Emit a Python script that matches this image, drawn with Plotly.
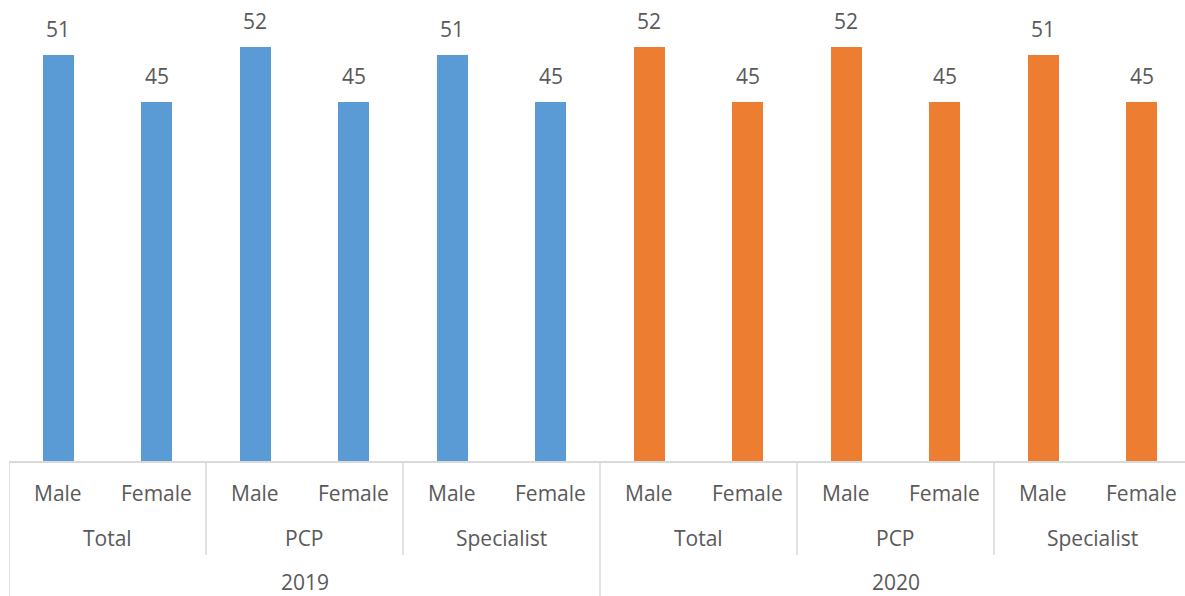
import plotly.graph_objects as go

# Hierarchical categories: year > group > sex
years = ["2019", "2020"]
groups = ["Total", "PCP", "Specialist"]
sexes = ["Male", "Female"]

# Values per year, ordered group by group, Male then Female
values_2019 = [51, 45, 52, 45, 51, 45]
values_2020 = [52, 45, 52, 45, 51, 45]

series = {"2019": values_2019, "2020": values_2020}
colors = {"2019": "#5B9BD5", "2020": "#ED7D31"}

TEXT = "#595959"
GRID = "#D9D9D9"
FONT = "Open Sans"

n_per_year = len(groups) * len(sexes)
n_total = n_per_year * len(years)

fig = go.Figure()
annotations = []
shapes = []

for yi, year in enumerate(years):
    xs = [yi * n_per_year + i for i in range(n_per_year)]
    vals = series[year]
    fig.add_trace(go.Bar(
        x=xs, y=vals, width=0.315,
        marker=dict(color=colors[year], line=dict(width=0)),
        name=year, showlegend=False, hoverinfo="y",
    ))
    # value labels above bars
    for x, v in zip(xs, vals):
        annotations.append(dict(
            x=x, y=v, xref="x", yref="y", text=str(v), showarrow=False,
            yanchor="middle", yshift=26,
            font=dict(family=FONT, size=21, color=TEXT),
        ))

# category labels in three rows below the axis
for i in range(n_total):
    sex = sexes[i % len(sexes)]
    annotations.append(dict(
        x=i, y=0, xref="x", yref="paper", text=sex, showarrow=False,
        yanchor="middle", yshift=-32,
        font=dict(family=FONT, size=21, color=TEXT),
    ))

n_groups = len(years) * len(groups)
for g in range(n_groups):
    name = groups[g % len(groups)]
    center = g * len(sexes) + (len(sexes) - 1) / 2
    annotations.append(dict(
        x=center, y=0, xref="x", yref="paper", text=name, showarrow=False,
        yanchor="middle", yshift=-77,
        font=dict(family=FONT, size=21, color=TEXT),
    ))

for yi, year in enumerate(years):
    center = yi * n_per_year + (n_per_year - 1) / 2
    annotations.append(dict(
        x=center, y=0, xref="x", yref="paper", text=year, showarrow=False,
        yanchor="middle", yshift=-121,
        font=dict(family=FONT, size=21, color=TEXT),
    ))

plot_h = 461
# dividers between groups (short) and years (full depth)
for g in range(n_groups + 1):
    xb = g * len(sexes) - 0.5
    is_year = (g * len(sexes)) % n_per_year == 0
    depth = 135 if is_year else 94
    shapes.append(dict(
        type="line", xref="x", yref="paper",
        x0=xb, x1=xb, y0=0, y1=-depth / plot_h,
        line=dict(color=GRID, width=1.5),
    ))

cat_px = 98.5
plot_w = 1185 - 9
fig.update_layout(
    width=1185, height=596,
    margin=dict(l=9, r=0, t=0, b=135),
    paper_bgcolor="white", plot_bgcolor="white",
    bargap=0,
    xaxis=dict(
        range=[-0.5, -0.5 + plot_w / cat_px],
        showticklabels=False, showgrid=False, zeroline=False,
        showline=True, linecolor=GRID, linewidth=1.5, ticks="",
    ),
    yaxis=dict(
        range=[0, plot_h / 7.97],
        visible=False, showgrid=False, zeroline=False,
    ),
    annotations=annotations,
    shapes=shapes,
    font=dict(family=FONT, color=TEXT),
)

fig.write_html("out.html")
